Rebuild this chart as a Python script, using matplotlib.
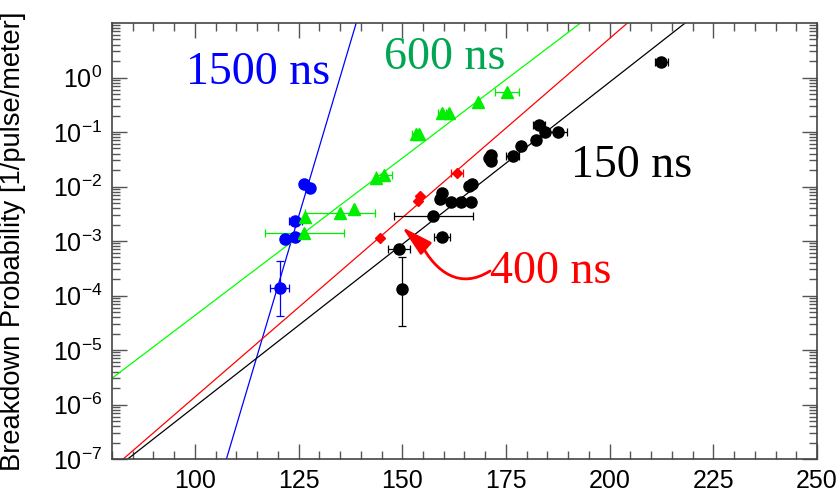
import numpy as np
import matplotlib
matplotlib.use("Agg")
import matplotlib.pyplot as plt
from matplotlib.patches import FancyArrowPatch
from matplotlib.path import Path
from matplotlib.ticker import FixedLocator, MultipleLocator, LogLocator, NullFormatter

plt.rcParams['font.family'] = ['Liberation Sans', 'DejaVu Sans']
plt.rcParams['mathtext.fontset'] = 'custom'
plt.rcParams['mathtext.rm'] = 'Liberation Sans'
plt.rcParams['mathtext.it'] = 'Liberation Sans:italic'
plt.rcParams['mathtext.bf'] = 'Liberation Sans:bold'

# ---- measured breakdown probabilities (field in MV/m) ----
# 1500 ns
e_1500 = [120.4, 121.8, 124.2, 124.2, 126.2, 127.8]
p_1500 = [1.4e-4, 1.07e-3, 1.17e-3, 2.3e-3, 1.12e-2, 9.5e-3]
xerr_1500 = [2.2, 0, 0, 1.5, 0, 0]
ylo_1500 = [9.8e-5, 0, 0, 0, 0, 0]
yhi_1500 = [2.9e-4, 0, 0, 0, 0, 0]

# 600 ns
e_600 = [126.4, 126.6, 135.0, 138.4, 143.7, 145.6, 153.3, 154.0, 159.6, 161.3, 168.2, 175.2]
p_600 = [1.4e-3, 2.8e-3, 3.3e-3, 3.8e-3, 1.46e-2, 1.6e-2, 9.3e-2, 9.0e-2, 0.22, 0.22, 0.35, 0.55]
xerr_600 = [9.6, 0, 8.5, 0, 0, 2.0, 1.0, 0, 1.0, 0, 0, 2.9]

# 400 ns
e_400 = [144.7, 153.8, 154.3, 163.2]
p_400 = [1.13e-3, 5.5e-3, 6.8e-3, 1.74e-2]
xerr_400 = [0, 0, 0, 1.5]

# 150 ns
e_150 = [149.2, 150.0, 157.5, 159.6, 159.1, 159.6, 161.7, 164.1, 166.5, 166.1, 166.8,
         171.5, 171.0, 171.3, 176.6, 178.6, 182.2, 182.9, 184.3, 187.5, 212.5]
p_150 = [7.1e-4, 1.29e-4, 2.9e-3, 1.18e-3, 5.8e-3, 7.7e-3, 5.1e-3, 5.1e-3, 5.1e-3, 1.03e-2, 1.13e-2,
         3.8e-2, 3.3e-2, 2.9e-2, 3.7e-2, 5.6e-2, 7.2e-2, 0.132, 0.098, 0.102, 1.95]
xerr_150 = [2.6, 0, 9.6, 2.0, 0, 0, 0, 0, 0, 0, 0,
            0, 0, 0, 1.5, 0, 1.0, 1.5, 0, 2.2, 1.5]
ylo_150 = [0, 1.01e-4] + [0] * 19
yhi_150 = [0, 3.7e-4] + [0] * 19

# exponential fits: log10(P) = a + b * E
fit_a = {'1500': -34.50, '600': -10.135, '400': -12.441, '150': -11.988}
fit_b = {'1500': 0.2556, '600': 0.0577, '400': 0.06579, '150': 0.05952}

x_ticks = [100, 125, 150, 175, 200, 225, 250]
y_decades = [-7, -6, -5, -4, -3, -2, -1, 0]

# curved pointer for the 400 ns label: (E, log10 P) of tail, bezier controls, head base, tip
pointer_e = [171.15, 163.9, 158.1, 154.5, 149.9]
pointer_logp = [-3.55, -3.90, -3.57, -3.055, -2.743]

series = [
    ('1500', e_1500, p_1500, xerr_1500, ylo_1500, yhi_1500, '#0000FF', '#0000FF', 'o', 8.0),
    ('600', e_600, p_600, xerr_600, None, None, '#00EE00', '#00FF00', '^', 9.0),
    ('400', e_400, p_400, xerr_400, None, None, '#FF0000', '#FF0000', 'D', 5.2),
    ('150', e_150, p_150, xerr_150, ylo_150, yhi_150, '#000000', '#000000', 'o', 8.0),
]

fig = plt.figure(figsize=(8.37, 4.97), dpi=100)
ax = fig.add_axes([112 / 837, 1 - 459 / 497, 705 / 837, 436 / 497])

xmin, xmax = 80, 250
ax.set_xlim(xmin, xmax)
ax.set_yscale('log')
ax.set_ylim(1e-7, 1e1)

# fit lines across the whole axis
e_line = np.linspace(xmin, xmax, 400)
for name, e, p, xe, ylo, yhi, mcol, lcol, mk, ms in series:
    ax.plot(e_line, 10 ** (fit_a[name] + fit_b[name] * e_line), color=lcol, lw=0.9, zorder=2)

# error bars and markers
for name, e, p, xe, ylo, yhi, mcol, lcol, mk, ms in series:
    e = np.asarray(e)
    p = np.asarray(p)
    xe = np.asarray(xe, dtype=float)
    sel = xe > 0
    if sel.any():
        ax.errorbar(e[sel], p[sel], xerr=xe[sel], fmt='none', ecolor=mcol,
                    elinewidth=0.9, capsize=2.6, capthick=0.9, zorder=3)
    if ylo is not None:
        lo = np.asarray(ylo)
        hi = np.asarray(yhi)
        s2 = (lo > 0) | (hi > 0)
        ax.errorbar(e[s2], p[s2], yerr=[lo[s2], hi[s2]], fmt='none', ecolor=mcol,
                    elinewidth=0.9, capsize=2.6, capthick=0.9, zorder=3)
    ax.plot(e, p, linestyle='none', marker=mk, markersize=ms, color=mcol,
            markeredgecolor=mcol, zorder=4)

# axis ticks
ax.xaxis.set_major_locator(FixedLocator(x_ticks))
ax.xaxis.set_minor_locator(MultipleLocator(5))
ax.set_xticklabels([str(v) for v in x_ticks])
ax.yaxis.set_major_locator(FixedLocator([10.0 ** d for d in y_decades]))
ax.yaxis.set_minor_locator(LogLocator(base=10, subs=np.arange(2, 10), numticks=20))
ax.yaxis.set_minor_formatter(NullFormatter())
ax.set_yticklabels([r'$\mathregular{10^{%d}}$' % d for d in y_decades])

ax.tick_params(which='both', direction='in', top=True, right=True, color='#555555')
ax.tick_params(which='major', length=10.5, width=1.0, labelsize=18, pad=7)
ax.tick_params(which='minor', length=5.5, width=1.0)
for sp in ax.spines.values():
    sp.set_color('#444444')
    sp.set_linewidth(1.2)

ax.set_ylabel('Breakdown Probability [1/pulse/meter]', fontsize=19.6)
ax.yaxis.set_label_coords(-0.122, 0.5)

# series labels
serif = ['Liberation Serif', 'DejaVu Serif']
ax.text(97.8, 0.77, '1500 ns', color='#0000FF', fontsize=33, family=serif,
        ha='left', va='baseline', zorder=5)
ax.text(145.6, 1.45, '600 ns', color='#00A651', fontsize=33, family=serif,
        ha='left', va='baseline', zorder=5)
ax.text(190.8, 0.0152, '150 ns', color='#000000', fontsize=33, family=serif,
        ha='left', va='baseline', zorder=5)
ax.text(171.2, 1.73e-4, '400 ns', color='#FF0000', fontsize=33, family=serif,
        ha='left', va='baseline', zorder=5)

# curved pointer: cubic bezier shaft, straight final run carrying the head
verts = list(zip(pointer_e, 10.0 ** np.asarray(pointer_logp)))
codes = [Path.MOVETO, Path.CURVE4, Path.CURVE4, Path.CURVE4, Path.LINETO]
pointer = FancyArrowPatch(path=Path(verts, codes),
                          arrowstyle='-|>,head_length=1.9,head_width=0.5',
                          mutation_scale=10, color='#FF0000', lw=2.0,
                          transform=ax.transData, zorder=5)
ax.add_patch(pointer)

fig.savefig('out.png', dpi=100)
